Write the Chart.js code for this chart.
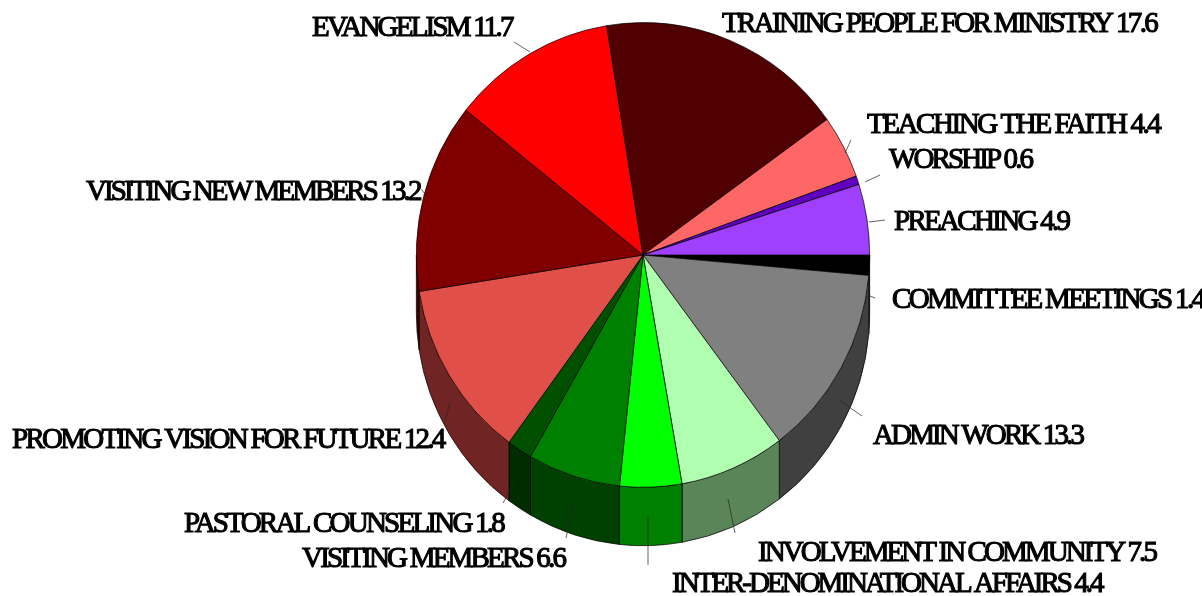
<!DOCTYPE html>
<html><head><meta charset="utf-8">
<style>html,body{margin:0;padding:0;background:#fff;overflow:hidden}#wrap{width:1202px;height:596px;position:relative}</style>
<script src="https://cdn.jsdelivr.net/npm/chart.js@4"></script>
</head><body><div id="wrap"><canvas id="c"></canvas></div>
<script>
const categories = ["COMMITTEE MEETINGS","ADMIN WORK","INVOLVEMENT IN COMMUNITY","INTER-DENOMINATIONAL AFFAIRS","VISITING MEMBERS","PASTORAL COUNSELING","PROMOTING VISION FOR FUTURE","VISITING NEW MEMBERS","EVANGELISM","TRAINING PEOPLE FOR MINISTRY","TEACHING THE FAITH","WORSHIP","PREACHING"];
const values = [1.4,13.3,7.5,4.4,6.6,1.8,12.4,13.2,11.7,17.6,4.4,0.6,4.9];
const topColors = ["#000000","#808080","#b0ffb0","#00ff00","#008000","#005000","#e05048","#800000","#ff0000","#500000","#ff6666","#6000c0","#a040ff"];
const wallColors = ["#000000","#404040","#5a8558","#008000","#004000","#002c00","#702424","#400000","#800000","#280000","#803333","#300060","#502080"];
const labelAnchors = [[892,308],[873,444],[758,561],[672,592],[302,567],[184,532],[12,448],[86,200],[312,36],[722,32],[867,133],[889,168],[894,230]];
const labelSpacing = [-2.65,-2.87,-2.93,-3,-2.8,-2.77,-2.75,-2.9,-2.8,-2.64,-2.43,-2.9,-2.7];
const leaders = [[[870,296],[875,298]],[[839,400],[862,416]],[[728,499],[735,533]],[[648,517],[648,565]],[[573,505],[566,538]],[[517,477],[503,503]],[[450,403],[445,421]],[[421,189],[426,195]],[[514,42],[530,52]],null,[[845,153],[851,140]],[[865,182],[880,175]],[[869,222],[885,220]]];
const DEPTH = 57, SY = 1.025;

const pie3d = {
  id:'pie3d',
  beforeDatasetsDraw(chart){
    const ctx = chart.ctx, arcs = chart.getDatasetMeta(0).data;
    const cx = arcs[0].x, cy = arcs[0].y, r = arcs[0].outerRadius;
    ctx.save();
    ctx.translate(cx,cy); ctx.scale(1,SY); ctx.translate(-cx,-cy);
    arcs.forEach((a,i)=>{
      const s = Math.max(a.startAngle,0), e = Math.min(a.endAngle,Math.PI);
      if(e<=s) return;
      ctx.beginPath();
      ctx.arc(cx,cy,r,s,e);
      ctx.arc(cx,cy+DEPTH,r,e,s,true);
      ctx.closePath();
      ctx.fillStyle = wallColors[i];
      ctx.strokeStyle = '#000'; ctx.lineWidth = 0.7;
      ctx.fill(); ctx.stroke();
    });
  },
  afterDatasetsDraw(chart){
    const ctx = chart.ctx;
    ctx.restore();
    ctx.save();
    ctx.strokeStyle = '#222'; ctx.lineWidth = 0.7;
    leaders.forEach(l=>{ if(!l) return; ctx.beginPath(); ctx.moveTo(l[0][0],l[0][1]); ctx.lineTo(l[1][0],l[1][1]); ctx.stroke(); });
    ctx.fillStyle = '#000'; ctx.strokeStyle='#000'; ctx.lineWidth=1.1;
    ctx.font = '29px "Liberation Serif"';
    ctx.textAlign = 'left'; ctx.textBaseline = 'alphabetic';
    categories.forEach((c,i)=>{
      const t = c+' '+values[i];
      ctx.letterSpacing = labelSpacing[i]+'px';
      ctx.fillText(t,labelAnchors[i][0],labelAnchors[i][1]);
      ctx.strokeText(t,labelAnchors[i][0],labelAnchors[i][1]);
    });
    ctx.restore();
  }
};

new Chart(document.getElementById('c'),{
  type:'pie',
  data:{labels:categories,datasets:[{data:values,backgroundColor:topColors,borderColor:'#000',borderWidth:0.7}]},
  options:{
    responsive:true,maintainAspectRatio:false,animation:false,rotation:90,
    layout:{padding:{left:416,right:332,top:28,bottom:114}},
    plugins:{legend:{display:false},tooltip:{enabled:false},title:{display:false}}
  },
  plugins:[pie3d]
});
</script></body></html>
